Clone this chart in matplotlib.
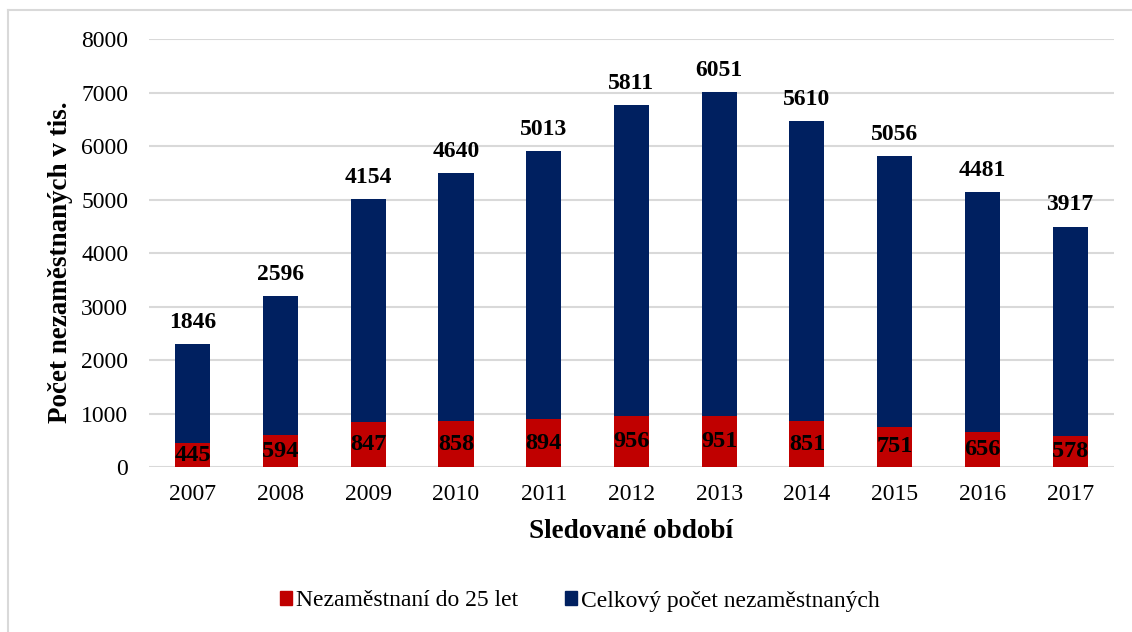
import matplotlib
matplotlib.use("Agg")
import matplotlib.pyplot as plt
from matplotlib.patches import Rectangle
from matplotlib.lines import Line2D

years = ["2007", "2008", "2009", "2010", "2011", "2012", "2013", "2014", "2015", "2016", "2017"]
young = [445, 594, 847, 858, 894, 956, 951, 851, 751, 656, 578]
total = [1846, 2596, 4154, 4640, 5013, 5811, 6051, 5610, 5056, 4481, 3917]
yticks = [0, 1000, 2000, 3000, 4000, 5000, 6000, 7000, 8000]

series_names = ["Nezaměstnaní do 25 let", "Celkový počet nezaměstnaných"]
red = "#C00000"
navy = "#002060"

plt.rcParams["font.family"] = ["Liberation Serif", "DejaVu Serif"]

W, H = 1132, 632
fig = plt.figure(figsize=(W / 100, H / 100), dpi=100)
ax = fig.add_axes([149 / W, (H - 467) / H, (1114 - 149) / W, (467 - 39) / H])

x = list(range(len(years)))
bw = 0.4
ax.bar(x, young, width=bw, color=red, linewidth=0, zorder=3)
ax.bar(x, total, width=bw, bottom=young, color=navy, linewidth=0, zorder=3)

for xi, y, t in zip(x, young, total):
    ax.text(xi, y / 2, str(y), ha="center", va="center", fontsize=17.5,
            fontweight="bold", color="black", zorder=4)
    ax.annotate(str(t), (xi, y + t), xytext=(0, 8), textcoords="offset points",
                ha="center", va="bottom", fontsize=17, fontweight="bold", color="black")

ax.set_xlim(-0.5, len(years) - 0.5)
ax.set_ylim(0, 8000)
ax.set_yticks(yticks)
ax.set_yticklabels([str(v) for v in yticks])
ax.set_xticks(x)
ax.set_xticklabels(years)
ax.tick_params(axis="y", length=0, pad=15, labelsize=17)
ax.tick_params(axis="x", length=0, pad=12, labelsize=17)
ax.grid(axis="y", color="#D9D9D9", linewidth=1.5, zorder=0)
for s in ax.spines.values():
    s.set_visible(False)

fig.text(631 / W, 1 - 532 / H, "Sledované období", ha="center", va="center",
         fontsize=19.5, fontweight="bold")
fig.text(61 / W, 1 - 262 / H, "Počet nezaměstnaných v tis.", ha="center", va="center",
         rotation=90, fontsize=19.5, fontweight="bold")

handles = [Rectangle((0, 0), 1, 1, color=red), Rectangle((0, 0), 1, 1, color=navy)]
fig.legend(handles, series_names, loc="center", bbox_to_anchor=(580 / W, 1 - 601 / H),
           ncol=2, frameon=False, fontsize=17, handlelength=0.5, handleheight=0.5,
           handletextpad=0.17, columnspacing=2.0, borderpad=0)

# outer border
fig.add_artist(Line2D([8 / W, 8 / W], [0, 1 - 10 / H], transform=fig.transFigure,
                      color="#D9D9D9", linewidth=1.5))
fig.add_artist(Line2D([8 / W, 1], [1 - 10 / H, 1 - 10 / H], transform=fig.transFigure,
                      color="#D9D9D9", linewidth=1.5))

fig.savefig("out.png", dpi=100)
